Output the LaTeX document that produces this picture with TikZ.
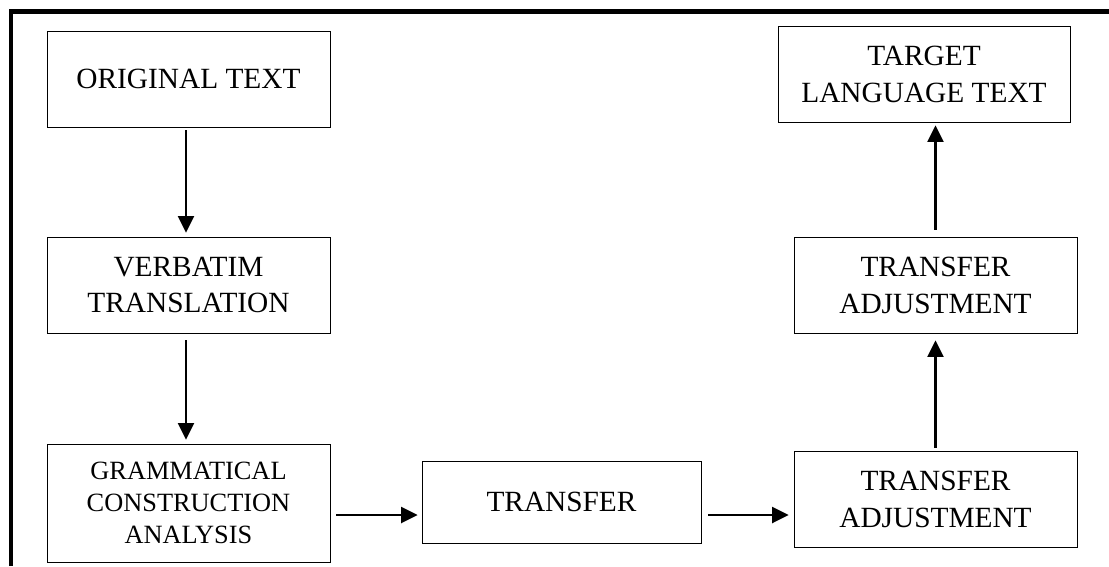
\documentclass[tikz,border=0pt]{standalone}
\usepackage{fontspec}
\setmainfont{Liberation Serif}
\usetikzlibrary{arrows.meta}
\begin{document}
\begin{tikzpicture}[x=0.02cm, y=-0.02cm,
		box/.style={draw, line width=0.45pt, align=center, inner sep=0pt, minimum width=283*0.02cm, minimum height=96*0.02cm, font=\fontsize{16.7}{21}\selectfont},
		flow/.style={line width=1.3pt, -{Triangle[length=0.33cm,width=0.32cm]}}]
			\useasboundingbox (0,0) rectangle (1109,566);
			\draw[line width=2.5pt] (11,566) -- (11,11.3) -- (1109,11.3);
			\node[box] (orig) at (188.5,79) {ORIGINAL TEXT};
			\node[box] (verb) at (188.5,285) {VERBATIM\\TRANSLATION};
			\node[box, minimum height=118*0.02cm, font=\fontsize{15}{18.4}\selectfont] (gram) at (188.5,503) {GRAMMATICAL\\CONSTRUCTION\\ANALYSIS};
			\node[box, minimum width=279*0.02cm, minimum height=82*0.02cm] (trans) at (561.5,502) {TRANSFER};
			\node[box] (adjlow) at (935.5,499) {TRANSFER\\ADJUSTMENT};
			\node[box] (adjup) at (935.5,285) {TRANSFER\\ADJUSTMENT};
			\node[box, minimum width=292*0.02cm] (target) at (924,74) {TARGET\\LANGUAGE TEXT};
			\draw[flow, shorten <=3*0.02cm, shorten >=4*0.02cm] ([xshift=-2.5*0.02cm]orig.south) -- ([xshift=-2.5*0.02cm]verb.north);
			\draw[flow, shorten <=7*0.02cm, shorten >=4*0.02cm] ([xshift=-2.5*0.02cm]verb.south) -- ([xshift=-2.5*0.02cm]gram.north);
			\draw[flow, shorten <=6*0.02cm, shorten >=4*0.02cm] ([yshift=-12*0.02cm]gram.east) -- ([yshift=-13*0.02cm]trans.west);
			\draw[flow, shorten <=7*0.02cm, shorten >=5*0.02cm] ([yshift=-13*0.02cm]trans.east) -- ([yshift=-16*0.02cm]adjlow.west);
			\draw[flow, shorten <=3*0.02cm, shorten >=7*0.02cm] (adjlow.north) -- (adjup.south);
			\draw[flow, shorten <=7*0.02cm, shorten >=3*0.02cm] (adjup.north) -- ([xshift=11.5*0.02cm]target.south);
		\end{tikzpicture}
\end{document}
